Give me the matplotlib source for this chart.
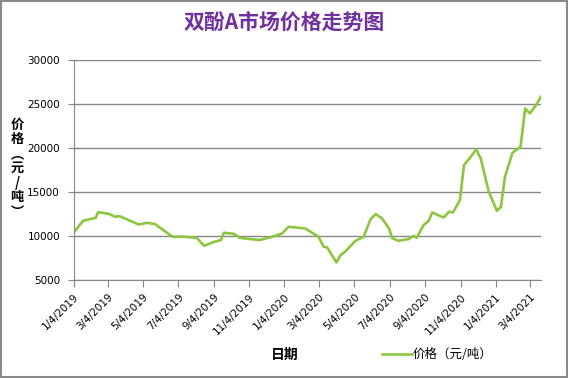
import matplotlib
matplotlib.use("Agg")
import matplotlib.pyplot as plt
import matplotlib.dates as mdates
from matplotlib.patches import Rectangle
import pandas as pd

plt.rcParams['font.family'] = ['DejaVu Sans', 'Noto Sans CJK SC']

# weekly-ish price points
dates = ["2019-01-04", "2019-01-20", "2019-02-11", "2019-02-15", "2019-03-07",
         "2019-03-16", "2019-03-24", "2019-04-26", "2019-05-11", "2019-05-25",
         "2019-06-20", "2019-06-25", "2019-07-16", "2019-08-05", "2019-08-11",
         "2019-08-18", "2019-09-03", "2019-09-16", "2019-09-21", "2019-10-08",
         "2019-10-19", "2019-11-06", "2019-11-22", "2019-12-10", "2019-12-31",
         "2020-01-11", "2020-02-09", "2020-02-23", "2020-03-03", "2020-03-12",
         "2020-03-18", "2020-04-03", "2020-04-10", "2020-04-18", "2020-05-06",
         "2020-05-20", "2020-06-01", "2020-06-10", "2020-06-21", "2020-07-03",
         "2020-07-09", "2020-07-20", "2020-08-06", "2020-08-15", "2020-08-20",
         "2020-09-01", "2020-09-10", "2020-09-16", "2020-09-30", "2020-10-06",
         "2020-10-15", "2020-10-22", "2020-11-03", "2020-11-10", "2020-11-21",
         "2020-12-01", "2020-12-09", "2020-12-23", "2021-01-06", "2021-01-13",
         "2021-01-20", "2021-02-02", "2021-02-16", "2021-02-24", "2021-03-04",
         "2021-03-13", "2021-03-16", "2021-03-23"]
prices = [10420, 11740, 12080, 12730, 12500,
          12200, 12270, 11330, 11510, 11360,
          10110, 9920, 9920, 9800, 9350,
          8900, 9320, 9550, 10380, 10260,
          9800, 9660, 9550, 9850, 10300,
          11060, 10870, 10300, 9920, 8780,
          8710, 7010, 7840, 8220, 9470,
          9920, 11900, 12500, 12010, 10870,
          9740, 9470, 9660, 10030, 9800,
          11250, 11740, 12690, 12270, 12120,
          12760, 12690, 14090, 18070, 18940,
          19850, 18830, 15030, 12880, 13330,
          16740, 19470, 20150, 24510, 23940,
          24700, 25000, 25830]
yticks = [5000, 10000, 15000, 20000, 25000, 30000]

x = pd.to_datetime(dates)
cjk = ['Noto Sans CJK SC', 'DejaVu Sans']

fig = plt.figure(figsize=(5.68, 3.78), dpi=100)
ax = fig.add_axes([0.130, 0.259, 0.822, 0.582])

ax.plot(x, prices, color='#8CC63F', linewidth=1.9, label='价格（元/吨）')

ax.set_ylim(5000, 30000)
ax.set_yticks(yticks)
ax.set_xlim(x[0], x[-1])
ax.yaxis.grid(True, color='#868686', linewidth=1.0)
ax.set_axisbelow(True)

ax.xaxis.set_major_locator(mdates.MonthLocator(bymonth=[1, 3, 5, 7, 9, 11], bymonthday=4))
ax.xaxis.set_major_formatter(plt.FuncFormatter(
    lambda v, p: "{d.month}/{d.day}/{d.year}".format(d=mdates.num2date(v))))

for s in ['top', 'right']:
    ax.spines[s].set_visible(False)
for s in ['left', 'bottom']:
    ax.spines[s].set_color('#868686')

ax.tick_params(axis='y', direction='inout', length=8, color='#868686', labelsize=7.5, pad=6)
ax.tick_params(axis='x', direction='out', length=5, color='#868686', labelsize=7.5)
plt.setp(ax.get_xticklabels(), rotation=45, ha='right', rotation_mode='anchor')

fig.text(0.5, 0.94, '双酚A市场价格走势图', ha='center', va='center',
         fontsize=15, fontweight='semibold', color='#7030A0', family=cjk)

fig.text(0.03, 0.555, '价\n格\n︵\n元\n/\n吨\n︶', ha='center', va='center',
         fontsize=9.5, fontweight='bold', linespacing=1.05, family=cjk)

fig.text(0.502, 0.062, '日期', ha='center', va='center', fontsize=10,
         fontweight='bold', family=cjk)

ax.legend(loc='center left', bbox_to_anchor=(0.652, 0.062),
          bbox_transform=fig.transFigure, frameon=False,
          handlelength=2.4, handletextpad=0.1,
          prop={'family': cjk, 'size': 9})

fig.patches.append(Rectangle((0.002, 0.003), 0.996, 0.994, transform=fig.transFigure,
                             fill=False, edgecolor='#888888', linewidth=1.5))

fig.savefig('out.png', dpi=100)
